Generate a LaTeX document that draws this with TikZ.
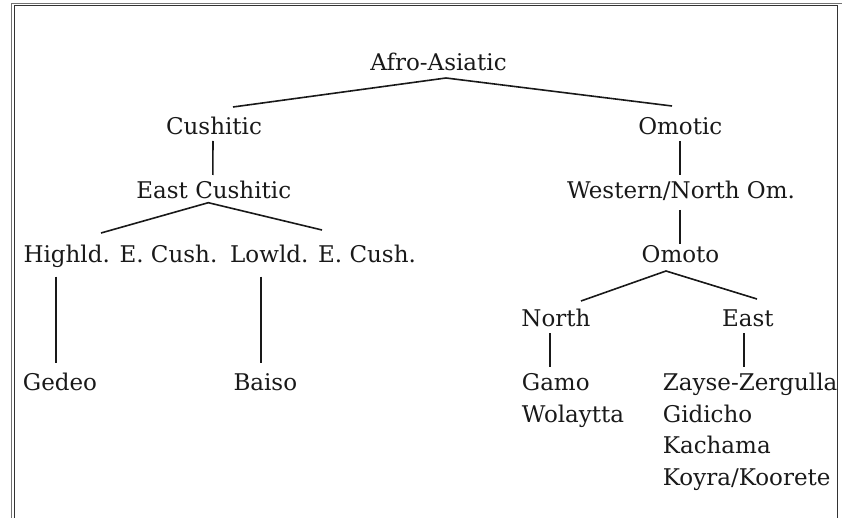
\documentclass[tikz,border=0pt]{standalone}
\usepackage{fontspec}
\setmainfont{DejaVu Serif}
\usetikzlibrary{positioning}
\definecolor{framegray}{gray}{0.45}
\definecolor{framedark}{gray}{0.2}
\definecolor{ink}{gray}{0.1}

\begin{document}
\begin{tikzpicture}[x=1pt, y=-1pt,
  every node/.style={inner sep=0pt, text=ink, font=\fontsize{23}{31.5}\selectfont},
  lang/.style={anchor=base},
  leaf/.style={anchor=base west, align=left},
  branch/.style={line width=1.6pt, draw=ink}]
\useasboundingbox (0,0) rectangle (842,518);
\draw[framegray, line width=1.1pt] (11.5,530) -- (11.5,3.7) -- (850,3.7);
\draw[framedark, line width=1pt] (14,530) -- (14,5.9) -- (837,5.9) -- (837,530);

\node[lang] (afro) at (438.5,71) {Afro-Asiatic};
\node[lang] (cush) at (214,135) {Cushitic};
\node[lang] (omot) at (680.3,135) {Omotic};
\node[lang] (ecush) at (213.8,199) {East Cushitic};
\node[lang] (wnom) at (681,199) {Western/North Om.};
\node[leaf] (hecush) at (23.3,262.7) {Highld. E. Cush.};
\node[leaf] (lecush) at (230,262.7) {Lowld. E. Cush.};
\node[lang] (omoto) at (680.5,262.7) {Omoto};
\node[lang] (north) at (555.9,326.7) {North};
\node[lang] (east) at (747.9,326.7) {East};
\node[leaf] (gedeo) at (22.7,390.7) {Gedeo};
\node[leaf] (baiso) at (233.3,390.7) {Baiso};
\node[leaf] (northlangs) at (521.7,422.2) {Gamo\\Wolaytta};
\node[leaf] (eastlangs) at (662.7,485.2) {Zayse-Zergulla\\Gidicho\\Kachama\\Koyra/Koorete};

\draw[branch] ([shift={(19,-28)}]cush.base) -- ([shift={(7.5,7)}]afro.base) -- ([shift={(-8.3,-29)}]omot.base);
\draw[branch] ([shift={(-1,6)}]cush.base) -- ([shift={(-1,-24)}]ecush.base);
\draw[branch] ([shift={(-0.3,6)}]omot.base) -- ([shift={(-1,-24)}]wnom.base);
\draw[branch] ([shift={(77.7,-29.7)}]hecush.base west) -- ([shift={(-5.5,3.7)}]ecush.base) -- ([shift={(92,-32.7)}]lecush.base west);
\draw[branch] ([shift={(-1,11)}]wnom.base) -- ([shift={(-0.5,-18.7)}]omoto.base);
\draw[branch] ([shift={(25.1,-25.7)}]north.base) -- ([shift={(-14.5,8.3)}]omoto.base) -- ([shift={(9.1,-27.7)}]east.base);
\draw[branch] ([shift={(32.4,14)}]hecush.base west) -- ([shift={(33,-27.4)}]gedeo.base west);
\draw[branch] ([shift={(30.7,14)}]lecush.base west) -- ([shift={(27.4,-27.4)}]baiso.base west);
\draw[branch] ([shift={(-5.9,6.3)}]north.base) -- ([shift={(28.3,-55.2)}]northlangs.base west);
\draw[branch] ([shift={(-3.9,6.3)}]east.base) -- ([shift={(81.3,-118.2)}]eastlangs.base west);
\end{tikzpicture}
\end{document}
